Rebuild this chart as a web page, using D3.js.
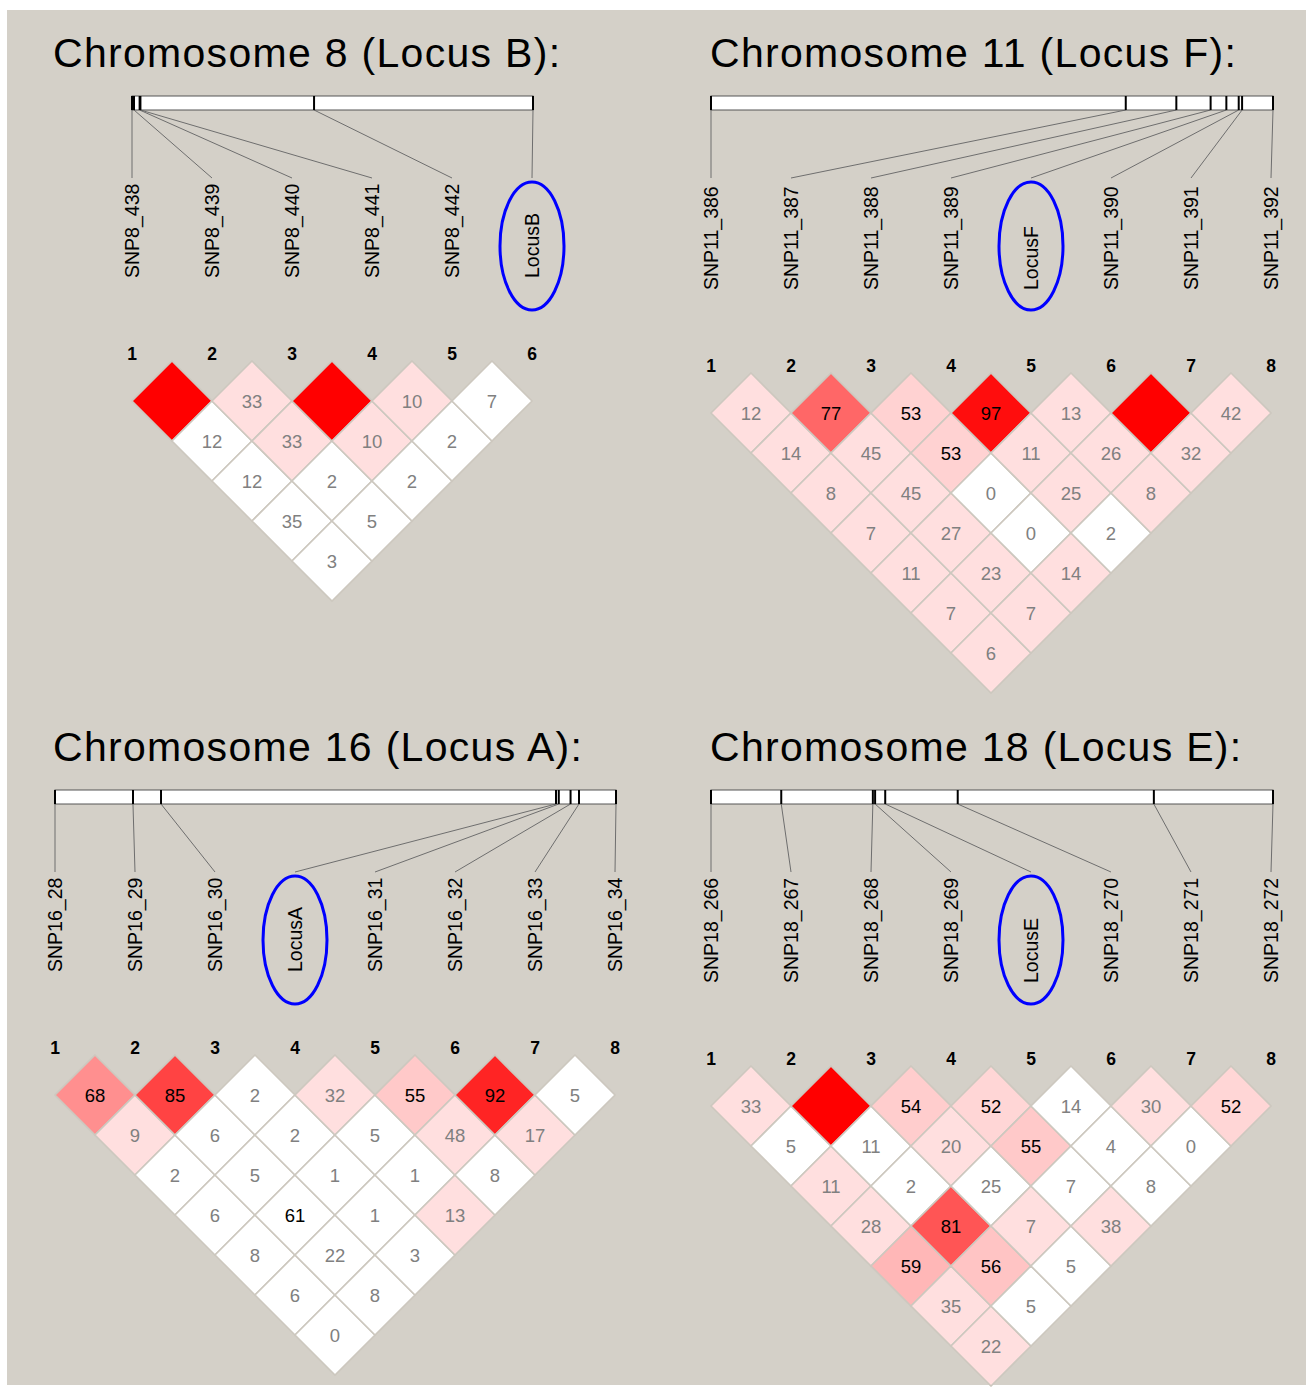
<!DOCTYPE html>
<html><head><meta charset="utf-8">
<script src="https://cdn.jsdelivr.net/npm/d3@7/dist/d3.min.js"></script>
<style>html,body{margin:0;padding:0;background:#fff;}svg{display:block;}</style>
</head><body>
<svg id="chart" width="1310" height="1387"></svg>
<script>
// ---------------- DATA ----------------
// Titles
const titles = ["Chromosome 8 (Locus B):", "Chromosome 11 (Locus F):", "Chromosome 16 (Locus A):", "Chromosome 18 (Locus E):"];

// Marker names
const chr8Markers  = ["SNP8_438","SNP8_439","SNP8_440","SNP8_441","SNP8_442","LocusB"];
const chr11Markers = ["SNP11_386","SNP11_387","SNP11_388","SNP11_389","LocusF","SNP11_390","SNP11_391","SNP11_392"];
const chr16Markers = ["SNP16_28","SNP16_29","SNP16_30","LocusA","SNP16_31","SNP16_32","SNP16_33","SNP16_34"];
const chr18Markers = ["SNP18_266","SNP18_267","SNP18_268","SNP18_269","LocusE","SNP18_270","SNP18_271","SNP18_272"];

// Relative physical positions along the region (% of region length)
const chr8Positions  = [0, 0.5, 1.9, 2.1, 45.4, 100];
const chr11Positions = [0, 73.8, 82.8, 88.9, 91.7, 93.9, 94.5, 100];
const chr16Positions = [0, 13.9, 18.9, 89.3, 89.8, 91.9, 93.4, 100];
const chr18Positions = [0, 12.5, 28.8, 29.2, 31.0, 43.9, 78.8, 100];

// Index of the highlighted locus in each panel
const locusIndex = [5, 4, 3, 4];

// D' x 100, rows: marker i with markers i+1..n
const chr8DPrime = [[100,12,12,35,3],[33,33,2,5],[100,10,2],[10,2],[7]];
const chr8Signif = [[1,0,0,0,0],[1,1,0,0],[1,1,0],[1,0],[0]];

const chr11DPrime = [[12,14,8,7,11,7,6],[77,45,45,27,23,7],[53,53,0,0,14],[97,11,25,2],[13,26,8],[100,32],[42]];
const chr11Signif = [[1,1,1,1,1,1,1],[1,1,1,1,1,1],[1,1,0,0,1],[1,1,1,0],[1,1,1],[1,1],[1]];

const chr16DPrime = [[68,9,2,6,8,6,0],[85,6,5,61,22,8],[2,2,1,1,3],[32,5,1,13],[55,48,8],[92,17],[5]];
const chr16Signif = [[1,1,0,0,0,0,0],[1,0,0,0,0,0],[0,0,0,0,0],[1,0,0,1],[1,1,0],[1,1],[0]];

const chr18DPrime = [[33,5,11,28,59,35,22],[100,11,2,81,56,5],[54,20,25,7,5],[52,55,7,38],[14,4,8],[30,0],[52]];
const chr18Signif = [[1,0,1,1,1,1,1],[1,0,0,1,1,0],[1,1,0,1,0],[1,1,0,1],[0,0,0],[1,0],[1]];

// ---------------- LAYOUT ----------------
const svg = d3.select("#chart");
svg.append("rect").attr("x",7).attr("y",10).attr("width",1299).attr("height",1375).attr("fill","#d4d0c8");

const FONT = "'Liberation Sans', Arial, Helvetica, sans-serif";
const STEP = 80;

const panels = [
  {title: titles[0], markers: chr8Markers,  positions: chr8Positions,  dprime: chr8DPrime,  signif: chr8Signif,  locus: locusIndex[0],
   titleX: 53,  top: 0,   x0: 132, barX0: 132, barX1: 533, labelBottom: 278},
  {title: titles[1], markers: chr11Markers, positions: chr11Positions, dprime: chr11DPrime, signif: chr11Signif, locus: locusIndex[1],
   titleX: 710, top: 0,   x0: 711, barX0: 711, barX1: 1273, labelBottom: 290},
  {title: titles[2], markers: chr16Markers, positions: chr16Positions, dprime: chr16DPrime, signif: chr16Signif, locus: locusIndex[2],
   titleX: 53,  top: 694, x0: 55,  barX0: 55,  barX1: 616, labelBottom: 278},
  {title: titles[3], markers: chr18Markers, positions: chr18Positions, dprime: chr18DPrime, signif: chr18Signif, locus: locusIndex[3],
   titleX: 710, top: 694, x0: 711, barX0: 711, barX1: 1273, labelBottom: 289}
];

const shade = d3.scaleLinear().domain([0.5, 1]).range(["rgb(255,223,223)", "rgb(255,0,0)"]).clamp(true);

function drawPanel(p) {
  const g = svg.append("g");
  const n = p.markers.length;
  const T = p.top;
  const x = d3.scaleLinear().domain([0, n - 1]).range([p.x0, p.x0 + STEP * (n - 1)]);
  const phys = d3.scaleLinear().domain(d3.extent(p.positions)).range([p.barX0, p.barX1]);
  const barY = T + 96, barH = 14;
  const labelBottom = T + p.labelBottom;
  const connEnd = T + 178;
  const numY = labelBottom + 76;
  const rowY = d3.scaleLinear().domain([1, 2]).range([numY + 47, numY + 47 + 40]);

  // title
  g.append("text").attr("x", p.titleX).attr("y", T + 67)
    .attr("font-family", FONT).attr("font-size", 41).attr("letter-spacing", 1.3).attr("fill", "#000")
    .text(p.title);

  // connectors
  g.selectAll("line.conn").data(p.positions).join("line").attr("class", "conn")
    .attr("x1", d => phys(d)).attr("y1", barY + barH)
    .attr("x2", (d, i) => x(i)).attr("y2", connEnd)
    .attr("stroke", "#6e6e6e").attr("stroke-width", 1);

  // bar
  g.append("rect").attr("x", p.barX0).attr("y", barY).attr("width", p.barX1 - p.barX0).attr("height", barH)
    .attr("fill", "#fff").attr("stroke", "#555").attr("stroke-width", 1);
  g.selectAll("line.tick").data(p.positions).join("line").attr("class", "tick")
    .attr("x1", d => phys(d)).attr("x2", d => phys(d))
    .attr("y1", barY).attr("y2", barY + barH)
    .attr("stroke", "#000").attr("stroke-width", 2);

  // marker labels
  g.selectAll("text.mk").data(p.markers).join("text").attr("class", "mk")
    .attr("transform", (d, i) => `translate(${x(i) + 7},${labelBottom}) rotate(-90)`)
    .attr("font-family", FONT).attr("font-size", 19.5).attr("fill", "#000")
    .text(d => d);

  // locus ellipse
  g.append("ellipse").attr("cx", x(p.locus)).attr("cy", T + 246)
    .attr("rx", 32).attr("ry", 64)
    .attr("fill", "none").attr("stroke", "#0000ff").attr("stroke-width", 3);

  // marker numbers
  g.selectAll("text.num").data(p.markers).join("text").attr("class", "num")
    .attr("x", (d, i) => x(i)).attr("y", numY + 6)
    .attr("text-anchor", "middle").attr("font-family", FONT).attr("font-weight", "bold")
    .attr("font-size", 17.5).attr("fill", "#000")
    .text((d, i) => i + 1);

  // LD cells
  const cells = [];
  p.dprime.forEach((row, i) => row.forEach((v, k) => {
    const j = i + k + 1;
    cells.push({i, j, d: v / 100, sig: p.signif[i][k]});
  }));
  const half = STEP / 2;
  const cg = g.selectAll("g.cell").data(cells).join("g").attr("class", "cell")
    .attr("transform", c => `translate(${(x(c.i) + x(c.j)) / 2},${rowY(c.j - c.i)})`);
  cg.append("path")
    .attr("d", `M0,${-half}L${half},0L0,${half}L${-half},0Z`)
    .attr("fill", c => c.sig ? shade(c.d) : "#ffffff")
    .attr("stroke", "#cdc8bf").attr("stroke-width", 1.6);
  cg.filter(c => c.d < 1).append("text")
    .attr("y", 6.8).attr("text-anchor", "middle")
    .attr("font-family", FONT).attr("font-size", 18.5)
    .attr("fill", c => c.d >= 0.5 ? "#000" : "#808080")
    .text(c => Math.round(c.d * 100));
}

panels.forEach(drawPanel);
</script>
</body></html>
